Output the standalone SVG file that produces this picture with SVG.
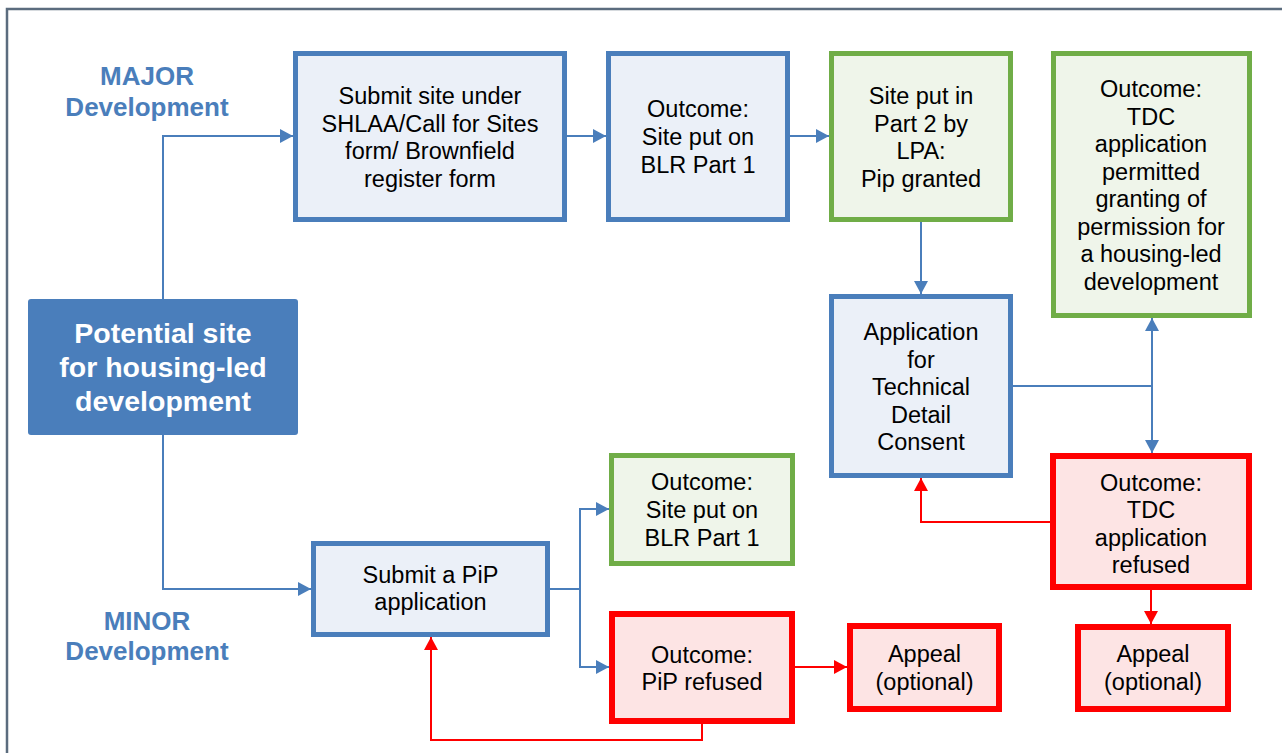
<svg xmlns="http://www.w3.org/2000/svg" width="1282" height="753" viewBox="0 0 1282 753">
<defs>
<style>
.t{font-family:"Liberation Sans",Arial,sans-serif;font-size:23.5px;fill:#000;text-anchor:middle}
.lbl{font-family:"Liberation Sans",Arial,sans-serif;font-size:26px;font-weight:bold;fill:#4A7EBB;text-anchor:middle}
.main{font-family:"Liberation Sans",Arial,sans-serif;font-size:28.5px;font-weight:bold;fill:#fff;text-anchor:middle}
.blue{fill:#EBF0F8;stroke:#4A7EBB;stroke-width:5}
.green{fill:#EFF5EA;stroke:#70AD47;stroke-width:5}
.red{fill:#FDE4E4;stroke:#FF0000;stroke-width:6}
.cb{fill:none;stroke:#4A7EBB;stroke-width:2}
.cr{fill:none;stroke:#FF0000;stroke-width:2}
</style>
<marker id="ab" viewBox="0 0 13 14" refX="13" refY="7" markerWidth="13" markerHeight="14" markerUnits="userSpaceOnUse" orient="auto">
<path d="M0,0 L13,7 L0,14 Z" fill="#4A7EBB"/>
</marker>
<marker id="ar" viewBox="0 0 13 14" refX="13" refY="7" markerWidth="13" markerHeight="14" markerUnits="userSpaceOnUse" orient="auto">
<path d="M0,0 L13,7 L0,14 Z" fill="#FF0000"/>
</marker>
</defs>
<rect width="1282" height="753" fill="#fff"/>
<path d="M1282,9 H7 V753" fill="none" stroke="#5B6C7E" stroke-width="2.5"/>

<g id="labels">
<text class="lbl" x="147" y="85">MAJOR</text>
<text class="lbl" x="147" y="116">Development</text>
<text class="lbl" x="147" y="630">MINOR</text>
<text class="lbl" x="147" y="660">Development</text>
</g>

<g id="connectors">
<path class="cb" d="M163,299 V136 H293" marker-end="url(#ab)"/>
<path class="cb" d="M567,136 H606" marker-end="url(#ab)"/>
<path class="cb" d="M790,136 H829" marker-end="url(#ab)"/>
<path class="cb" d="M921,222 V294" marker-end="url(#ab)"/>
<path class="cb" d="M1013,386 H1152"/>
<path class="cb" d="M1152,386 V318" marker-end="url(#ab)"/>
<path class="cb" d="M1152,386 V453" marker-end="url(#ab)"/>
<path class="cr" d="M1050,522 H921 V478" marker-end="url(#ar)"/>
<path class="cr" d="M1151,590 V624" marker-end="url(#ar)"/>
<path class="cb" d="M163,435 V589 H311" marker-end="url(#ab)"/>
<path class="cb" d="M550,589 H580 V509 H609" marker-end="url(#ab)"/>
<path class="cb" d="M580,589 V667 H609" marker-end="url(#ab)"/>
<path class="cr" d="M795,667 H847" marker-end="url(#ar)"/>
<path class="cr" d="M702,724 V740 H431 V637" marker-end="url(#ar)"/>
</g>

<g id="potential">
<rect x="28" y="299" width="270" height="136" rx="3" fill="#4A7EBB"/>
<text class="main" x="163" y="343">Potential site</text>
<text class="main" x="163" y="377">for housing-led</text>
<text class="main" x="163" y="411">development</text>
</g>

<g id="submit-site">
<rect class="blue" x="295.5" y="53.5" width="269" height="166"/>
<text class="t" x="430" y="104">Submit site under</text>
<text class="t" x="430" y="131.5">SHLAA/Call for Sites</text>
<text class="t" x="430" y="159">form/ Brownfield</text>
<text class="t" x="430" y="186.5">register form</text>
</g>

<g id="outcome-blr1">
<rect class="blue" x="608.5" y="53.5" width="179" height="166"/>
<text class="t" x="698" y="117">Outcome:</text>
<text class="t" x="698" y="145">Site put on</text>
<text class="t" x="698" y="173">BLR Part 1</text>
</g>

<g id="part2">
<rect class="green" x="831.5" y="53.5" width="179" height="166"/>
<text class="t" x="921" y="104">Site put in</text>
<text class="t" x="921" y="131.5">Part 2 by</text>
<text class="t" x="921" y="159">LPA:</text>
<text class="t" x="921" y="186.5">Pip granted</text>
</g>

<g id="tdc-permitted">
<rect class="green" x="1053.5" y="53.5" width="196" height="262"/>
<text class="t" x="1151" y="97">Outcome:</text>
<text class="t" x="1151" y="124.5">TDC</text>
<text class="t" x="1151" y="152">application</text>
<text class="t" x="1151" y="179.5">permitted</text>
<text class="t" x="1151" y="207">granting of</text>
<text class="t" x="1151" y="234.5">permission for</text>
<text class="t" x="1151" y="262">a housing-led</text>
<text class="t" x="1151" y="289.5">development</text>
</g>

<g id="tdc-application">
<rect class="blue" x="831.5" y="296.5" width="179" height="179"/>
<text class="t" x="921" y="340">Application</text>
<text class="t" x="921" y="367.5">for</text>
<text class="t" x="921" y="395">Technical</text>
<text class="t" x="921" y="422.5">Detail</text>
<text class="t" x="921" y="450">Consent</text>
</g>

<g id="tdc-refused">
<rect class="red" x="1053" y="456" width="196" height="131"/>
<text class="t" x="1151" y="490.5">Outcome:</text>
<text class="t" x="1151" y="518">TDC</text>
<text class="t" x="1151" y="545.5">application</text>
<text class="t" x="1151" y="573">refused</text>
</g>

<g id="outcome-blr1-minor">
<rect class="green" x="611.5" y="455.5" width="181" height="108"/>
<text class="t" x="702" y="490">Outcome:</text>
<text class="t" x="702" y="518">Site put on</text>
<text class="t" x="702" y="546">BLR Part 1</text>
</g>

<g id="submit-pip">
<rect class="blue" x="313.5" y="543.5" width="234" height="91"/>
<text class="t" x="430.5" y="583">Submit a PiP</text>
<text class="t" x="430.5" y="610">application</text>
</g>

<g id="pip-refused">
<rect class="red" x="612" y="614" width="180" height="107"/>
<text class="t" x="702" y="663">Outcome:</text>
<text class="t" x="702" y="690">PiP refused</text>
</g>

<g id="appeal-pip">
<rect class="red" x="850" y="626" width="149" height="83"/>
<text class="t" x="924.5" y="662">Appeal</text>
<text class="t" x="924.5" y="690">(optional)</text>
</g>

<g id="appeal-tdc">
<rect class="red" x="1078" y="627" width="150" height="82"/>
<text class="t" x="1153" y="662">Appeal</text>
<text class="t" x="1153" y="690">(optional)</text>
</g>
</svg>
